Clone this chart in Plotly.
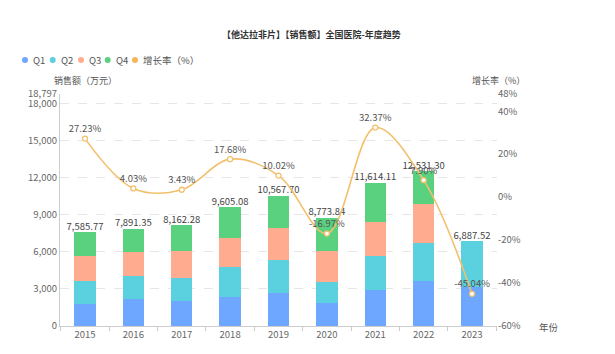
import plotly.graph_objects as go

years = ["2015", "2016", "2017", "2018", "2019", "2020", "2021", "2022", "2023"]
q1 = [1784, 2162, 2054, 2379, 2703, 1892, 2892, 3622, 3200]
q2 = [1892, 1893, 1865, 2405, 2649, 1703, 2811, 3136, 3687.52]
q3 = [2000, 1919, 2163, 2352, 2595, 2460, 2730, 3135, None]
q4 = [1909.77, 1917.35, 2080.28, 2469.08, 2620.70, 2718.84, 3181.11, 2638.30, None]
totals = [7585.77, 7891.35, 8162.28, 9605.08, 10567.70, 8773.84, 11614.11, 12531.30, 6887.52]
growth = [27.23, 4.03, 3.43, 17.68, 10.02, -16.97, 32.37, 7.90, -45.04]

left_ticks = [0, 3000, 6000, 9000, 12000, 15000, 18000, 18797]
right_ticks = [-60, -40, -20, 0, 20, 40, 48]

series_names = ["Q1", "Q2", "Q3", "Q4", "增长率（%）"]
colors = ["#6ea7ff", "#5bd0de", "#ffab8f", "#5ad17f", "#f5b55b"]
line_color = "#f2c06c"

FONT = "Noto Sans CJK SC, Noto Sans, sans-serif"

fig = go.Figure()
for name, vals, c in zip(series_names[:4], [q1, q2, q3, q4], colors[:4]):
    fig.add_trace(go.Bar(x=years, y=vals, name=name, marker=dict(color=c, line=dict(width=0)),
                         showlegend=False, yaxis="y"))

fig.add_trace(go.Scatter(x=years, y=totals, mode="text",
                         text=[f"{v:,.2f}" for v in totals], textposition="top center",
                         textfont=dict(size=9.5, color="#444", family=FONT),
                         showlegend=False, yaxis="y", cliponaxis=False))

fig.add_trace(go.Scatter(x=years, y=growth, mode="lines+markers+text", yaxis="y2",
                         line=dict(color=line_color, width=1.6, shape="spline", smoothing=1.0),
                         marker=dict(size=5, color="white", line=dict(color=line_color, width=1.3)),
                         text=[f"{v:.2f}%" for v in growth], textposition="top center",
                         textfont=dict(size=9.5, color="#555", family=FONT),
                         showlegend=False, cliponaxis=False))

W, H = 615, 354
L, R, T, B = 60, 118, 94, 28
pw, ph = W - L - R, H - T - B

def px(xp):
    return (xp - L) / pw

def py(yp):
    return (H - B - yp) / ph

shapes = []
annotations = []
dot_x = [25, 52.7, 81, 107.7, 135]
for xp, name, c in zip(dot_x, series_names, colors):
    shapes.append(dict(type="circle", xref="paper", yref="paper",
                       x0=px(xp - 3), x1=px(xp + 3), y0=py(60 + 3), y1=py(60 - 3),
                       fillcolor=c, line=dict(width=0)))
    annotations.append(dict(text=name, xref="paper", yref="paper", x=px(xp + 6), y=py(60),
                            xanchor="left", yanchor="middle", showarrow=False,
                            font=dict(size=9.5, color="#555", family=FONT)))

annotations.append(dict(text="<b>【他达拉非片】【销售额】全国医院-年度趋势</b>", xref="paper", yref="paper",
                        x=px(311.5), y=py(34), xanchor="center", yanchor="middle", showarrow=False,
                        font=dict(size=9, color="#333", family=FONT)))
annotations.append(dict(text="销售额（万元）", xref="paper", yref="paper", x=px(85), y=py(80),
                        xanchor="center", yanchor="middle", showarrow=False,
                        font=dict(size=9, color="#555", family=FONT)))
annotations.append(dict(text="增长率（%）", xref="paper", yref="paper", x=px(498), y=py(80),
                        xanchor="center", yanchor="middle", showarrow=False,
                        font=dict(size=9, color="#555", family=FONT)))
annotations.append(dict(text="年份", xref="paper", yref="paper", x=px(549), y=py(327),
                        xanchor="center", yanchor="middle", showarrow=False,
                        font=dict(size=9.5, color="#555", family=FONT)))

fig.update_layout(
    width=W, height=H, margin=dict(l=L, r=R, t=T, b=B),
    paper_bgcolor="white", plot_bgcolor="white",
    barmode="stack", bargap=0.56,
    showlegend=False,
    font=dict(family=FONT, size=9.5, color="#666"),
    xaxis=dict(type="category", showline=True, linecolor="#ccc", linewidth=1,
               ticks="outside", tickson="boundaries", ticklen=4, tickcolor="#ccc",
               showgrid=False, tickfont=dict(size=9.5, color="#666")),
    yaxis=dict(range=[0, 18797], tickvals=left_ticks, ticktext=[f"{v:,}" for v in left_ticks],
               showgrid=True, gridcolor="#e6e6e6", griddash="dash", gridwidth=1,
               showline=True, linecolor="#ccc", zeroline=False, ticks="",
               tickfont=dict(size=9.5, color="#666")),
    yaxis2=dict(range=[-60, 48], tickvals=right_ticks, ticktext=[f"{v}%" for v in right_ticks],
                overlaying="y", side="right", showgrid=False, zeroline=False, showline=False,
                tickfont=dict(size=9.5, color="#666")),
    shapes=shapes, annotations=annotations,
)

fig.write_html("out.html")
